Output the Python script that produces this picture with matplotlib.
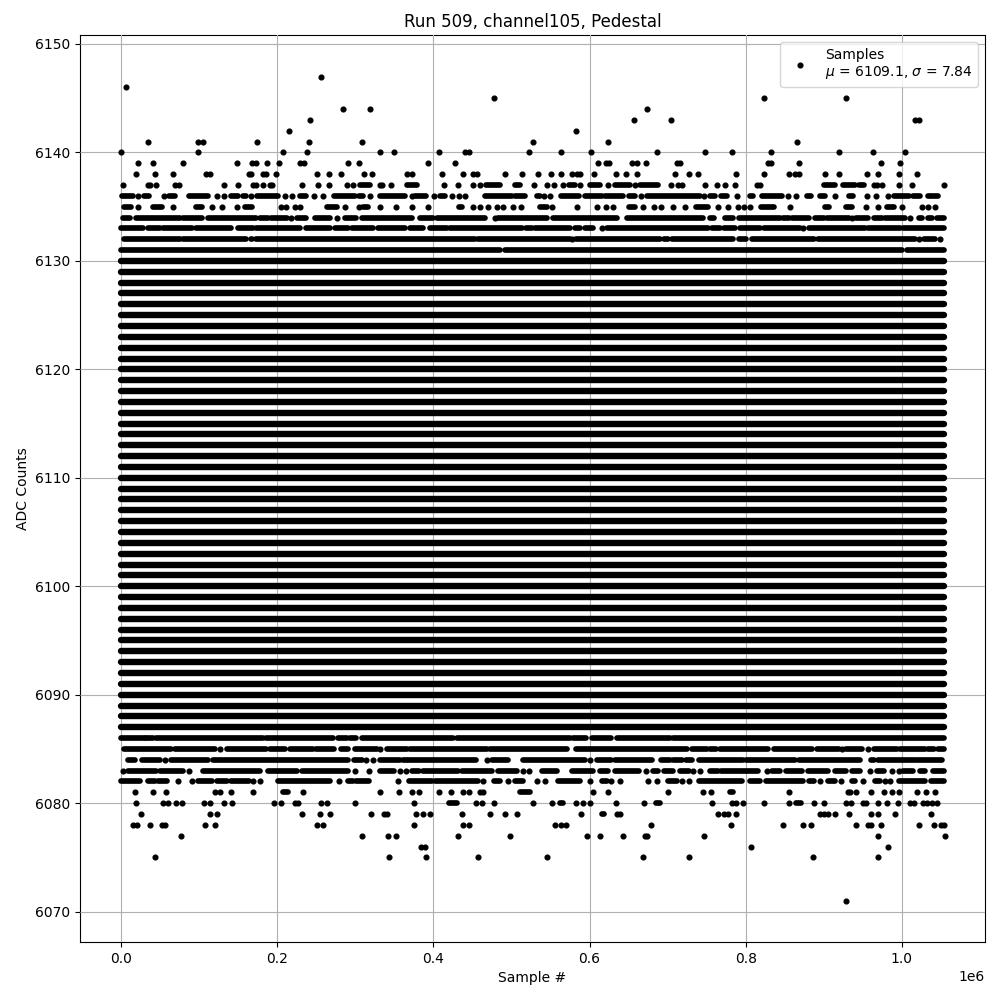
import matplotlib
matplotlib.use("Agg")
import matplotlib.pyplot as plt

# Values in thousands of samples.
# A number is one sample; a (first, last) pair is an unbroken run of samples at that ADC level.
row_6147 = [256]
row_6146 = [6]
row_6145 = [477, 823, 929]
row_6144 = [284, 319, 674]
row_6143 = [242, 657, 704, 1017, 1022]
row_6142 = [215, 583]
row_6141 = [34, 98.5, 105, 174, 241, 309, 527, 624, 866]
row_6140 = [0, 98.5, 207, 238, 331, 350, 407, 441, 446, 522, 564, 602, 687, 748, 782, 833, 920, 963, 1004]
row_6139 = [22, 41, 79, 148, 168, 173, 187, 202, 229, 234, 291, 305, 393, 427, 611, 621, 625, 655, 661, 672,
            712, 716, 829, 833, 869, 973, 998]
row_6138 = [19, 43, 66, 109, 114, 163, 166, 181, 185, 198, 251, 266, 281, 311, 321, 366, 372, 411, 438, 451, 456,
            491, 513, 534, 550, 563, 577, 584, 588, 606, 634, 647, 661, 710, 727, 739, 787, 824, 855, 863, 868,
            902, 919, 956, 970, 997, 1019]
row_6137 = [2, 34, 37, 45, 69, 74, 131, 150, 169, 172, 182, 190, 193, 232, 252, 266, 289, 297, (306, 319), 331, 334,
            346, (366, 379), 414, 431, 450, 459, (467, 485), (504, 511), 529, 546, 554, 566, (574, 581), 588,
            (601, 613), 623, (633, 652), 658, (665, 688), 704, 713, 718, 748, 763, 774, 786, 815, 819, (900, 915),
            (925, 940), (945, 952), 965, 968, 975, 996, 1013, 1054]
row_6136 = [(1, 15), 22, (29, 36), 55, (61, 69), (87, 111), 123, 131, (140, 149), (156, 160), 166, (174, 201), 210,
            219, (229, 237), 247, 259, (272, 299), (305, 310), 319, (331, 363), 372, (376, 391), 401, (408, 415),
            424, 433, 441, (466, 500), (504, 517), (532, 536), 541, 549, (564, 586), (594, 616), (620, 643),
            (651, 658), 666, (673, 741), 746, (754, 761), (769, 776), 789, (806, 810), (821, 847), 854, 865,
            (878, 884), (895, 902), 915, (932, 937), 955, 967, 983, (990, 1009), (1015, 1024), (1034, 1040),
            (1043, 1046)]
row_6135 = [(3, 12), 22, (41, 52), 66, (96, 103), 116, 129, 148, (158, 167), 204, 211, 222, 229, (263, 277), 286,
            304, (310, 316), 331, 352, 373, 393, (433, 436), 450, 459, 470, 481, 489, 502, 512, (536, 545), 552,
            584, 610, 621, 630, (650, 658), 668, 682, 692, 707, 722, (737, 752), 765, 778, 790, 798, 805,
            (820, 836), 857, (902, 907), (929, 936), 954, 970, (981, 990), 1000, 1026, 1034, 1043]
row_6134 = [(2, 11), (19, 75), (79, 103), (111, 173), (178, 188), (192, 212), 217, (225, 237), (248, 267), 277,
            (286, 301), (308, 372), (383, 399), (404, 466), 479, (483, 545), (553, 635), (648, 745), (754, 759),
            (774, 784), (791, 844), (848, 855), (859, 881), (889, 900), (904, 932), 936, (942, 957), (964, 975),
            (979, 1004), 1011, (1022, 1026), (1034, 1039), (1045, 1054)]
row_6133 = [(0, 28), (34, 49), (54, 90), (96, 141), (150, 169), (173, 229), (237, 267), (274, 291), (295, 323),
            (329, 363), (370, 387), (395, 417), (421, 513), (519, 526), (530, 575), (581, 588), (594, 605), 616,
            (622, 752), (757, 767), (772, 786), (793, 819), (823, 870), 874, (881, 953), (957, 998), (1002, 1054)]
row_6132 = [(3, 75), (79, 160), (166, 168), (173, 453), (457, 575), 577, (583, 690), (695, 701), (705, 784),
            (791, 801), (808, 887), (893, 1017), 1022, (1028, 1043), 1049]
row_6131 = [(0, 485), (492, 1000), (1007, 1054)]

row_6086 = [(0, 30), (32, 41), (45, 182), (186, 271), (278, 289), (293, 301), (308, 425), (430, 575), (579, 596),
            (603, 628), (635, 703), (707, 1054)]
row_6085 = [(3, 64), (69, 120), 126, (135, 186), (190, 210), (216, 246), (250, 272), (282, 291), (299, 327), 332,
            (340, 366), (370, 468), (472, 571), (583, 725), (731, 750), (754, 762), (767, 829), (836, 885),
            (891, 919), 923, (928, 949), 957, (965, 994), (998, 1030), (1034, 1041), (1047, 1054)]
row_6084 = [(9, 17), (26, 49), 56, (64, 111), (118, 291), (298, 308), 314, 323, (331, 357), (361, 455), 469,
            (475, 496), (515, 594), 601, (609, 628), (633, 680), (692, 703), (707, 718), (724, 731), (740, 797),
            (801, 863), (868, 947), (960, 964), (970, 1017), (1020, 1051)]
row_6083 = [2, (9, 45), (49, 79), 87, (105, 178), (188, 225), (231, 291), 300, 318, (331, 349), 357, 365, (372, 381),
            (387, 432), (436, 475), (483, 507), 515, 523, (539, 558), (577, 605), (613, 624), (633, 663), 672,
            (681, 688), (695, 707), (716, 727), 732, 741, (754, 765), (769, 816), 827, (834, 844), (852, 872),
            (880, 906), (915, 928), (936, 947), 959, (968, 977), 987, 996, (1002, 1015), (1024, 1030), (1040, 1054)]
row_6082 = [(0, 24), (34, 43), (47, 58), 72, 91, (98, 116), (122, 135), (141, 163), 169, 178, (201, 267), 279,
            (291, 297), (301, 317), 355, (368, 398), (402, 457), 464, (477, 485), 496, (504, 515), 532, 543,
            (560, 588), 601, (616, 622), 628, 639, 675, 687, (701, 712), 718, 727, (740, 795), (806, 819),
            (826, 874), (881, 887), 895, (906, 915), 922, (936, 940), 950, (966, 972), 979, 985, (996, 1030),
            (1037, 1054)]
row_6081 = [18, 41, 57, 120, 127, 140, 169, (207, 214), 233, 331, 356, 372, 382, 407, 423, 438, 446, 460, 464,
            (511, 524), 605, 623, 701, 745, 756, (780, 784), 856, 931, 934, 942, 960, 977, 987, 996, 1020, 1031, 1043]
row_6080 = [19, 54, 60, 70, 78, 106, 113, 131, 142, 195, 205, 223, 227, 256, 263, 300, 375, (420, 430), 454, 462,
            478, 527, 552, (562, 566), 582, 591, 601, 634, 670, (685, 690), 757, 782, 788, 796, 824, 855, (864, 871),
            888, 901, 928, 935, 951, 954, 970, 981, 995, 1010, 1016, 1027, 1033, 1039, 1045]
row_6079 = [25, 113, 122, 232, 254, 268, 320, 337, 340, 378, 387, 396, 436, 472, 492, 507, 589, (616, 619), 635, 639,
            765, 772, 777, 788, 895, 900, 906, 914, 932, 961, 970, 992, 1038]
row_6078 = [15, 20, 37, 52, 56, 107, 120, 251, 258, 375, 438, 445, 556, 564, 570, 679, 781, 848, 874, 884, 942, 957,
            960, 974, 1022, 1041, 1050, 1054]
row_6077 = [77, 309, 342, 352, 431, 498, 597, 613, 643, 671, 673, 746, 969, 1055]
row_6076 = [384, 389, 807, 983]
row_6075 = [43, 343, 391, 457, 546, 669, 728, 886, 970]
row_6071 = [928]

# Levels filled from the first sample to the last one.
full_levels = [6087, 6088, 6089, 6090, 6091, 6092, 6093, 6094, 6095, 6096, 6097, 6098, 6099, 6100, 6101,
               6102, 6103, 6104, 6105, 6106, 6107, 6108, 6109, 6110, 6111, 6112, 6113, 6114, 6115, 6116,
               6117, 6118, 6119, 6120, 6121, 6122, 6123, 6124, 6125, 6126, 6127, 6128, 6129, 6130]
full_run = (0, 1054)

partial_levels = [
    (6147, row_6147), (6146, row_6146), (6145, row_6145), (6144, row_6144), (6143, row_6143),
    (6142, row_6142), (6141, row_6141), (6140, row_6140), (6139, row_6139), (6138, row_6138),
    (6137, row_6137), (6136, row_6136), (6135, row_6135), (6134, row_6134), (6133, row_6133),
    (6132, row_6132), (6131, row_6131), (6086, row_6086), (6085, row_6085), (6084, row_6084),
    (6083, row_6083), (6082, row_6082), (6081, row_6081), (6080, row_6080), (6079, row_6079),
    (6078, row_6078), (6077, row_6077), (6076, row_6076), (6075, row_6075), (6071, row_6071),
]

title = "Run 509, channel105, Pedestal"
x_label = "Sample #"
y_label = "ADC Counts"
legend_label = "Samples\n$\\mu$ = 6109.1, $\\sigma$ = 7.84"

fig, ax = plt.subplots(figsize=(10, 10), dpi=100)


def draw_run(first, last, level, width):
    ax.plot([first * 1000, last * 1000], [level, level], color="black", lw=width,
            solid_capstyle="round", zorder=3)


point_x, point_y = [], []
for level in full_levels:
    draw_run(full_run[0], full_run[1], level, 4.6)
for level, row in partial_levels:
    for item in row:
        if isinstance(item, tuple):
            draw_run(item[0], item[1], level, 4.1)
        else:
            point_x.append(item * 1000)
            point_y.append(level)

ax.plot(point_x, point_y, ".", color="black", ms=6.8, label=legend_label, zorder=3)

ax.set_xlim(-52700, 1106700)
ax.set_ylim(6067.2, 6150.8)
ax.set_title(title)
ax.set_xlabel(x_label)
ax.set_ylabel(y_label)
ax.grid(True)
ax.set_axisbelow(False)
ax.legend(loc="upper right")
fig.subplots_adjust(left=0.0802, right=0.9850, bottom=0.058, top=0.9647)
fig.savefig("out.png", dpi=100)
